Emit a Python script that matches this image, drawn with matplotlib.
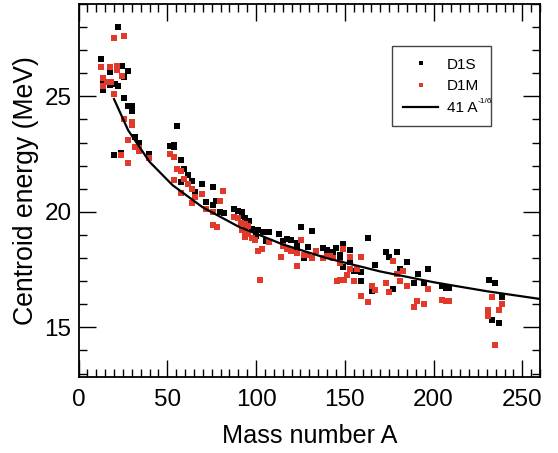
import numpy as np
import matplotlib
matplotlib.use("Agg")
import matplotlib.pyplot as plt
from matplotlib.lines import Line2D
from matplotlib.ticker import MultipleLocator

plt.rcParams['font.family'] = ['Liberation Sans', 'DejaVu Sans']

# ---- data ----
d1s_A = [22.0, 12.4, 24.3, 28.1, 25.8, 14.0, 17.9, 20.6, 22.1, 14.0, 17.9, 25.8, 28.1, 30.0, 30.0,
         32.1, 33.9, 20.2, 24.2, 39.8, 55.7, 51.7, 53.9, 53.9, 57.9, 59.7, 61.8, 63.8, 58.0, 65.8,
         69.7, 75.9, 71.7, 77.5, 75.9, 79.8, 81.7, 87.8, 89.9, 91.9, 91.9, 93.8, 95.8, 97.6, 101.3,
         103.7, 107.5, 113.2, 100.0, 105.4, 115.4, 117.6, 119.5, 125.5, 131.7, 123.3, 123.3, 129.5,
         127.3, 137.5, 139.8, 141.7, 143.5, 145.2, 149.2, 153.0, 147.3, 147.3, 153.0, 149.2, 155.2,
         157.1, 159.2, 159.3, 163.3, 167.2, 165.5, 173.2, 175.1, 179.2, 185.2, 181.2, 191.0, 197.1,
         189.2, 194.8, 177.4, 205.0, 207.0, 208.9, 231.0, 234.9, 238.8, 230.9, 233.1, 237.1]
d1s_E = [27.99, 26.60, 26.33, 26.12, 25.85, 25.62, 25.48, 25.55, 25.46, 25.28, 26.04, 24.94, 24.60,
         24.60, 24.38, 23.22, 23.00, 22.48, 22.54, 22.51, 23.70, 22.86, 22.91, 22.80, 22.25, 21.86,
         21.61, 21.35, 21.29, 20.84, 21.20, 21.08, 20.43, 20.47, 20.29, 19.98, 19.93, 20.12, 20.03,
         19.99, 19.83, 19.73, 19.59, 19.25, 19.20, 19.11, 19.12, 19.03, 18.96, 18.76, 18.74, 18.81,
         18.77, 19.35, 19.15, 18.65, 18.48, 18.46, 17.99, 18.42, 18.33, 18.27, 18.27, 18.42, 18.60,
         18.33, 18.12, 17.99, 17.81, 17.61, 17.46, 17.46, 17.40, 17.00, 18.86, 17.68, 16.57, 18.25,
         18.03, 18.25, 17.81, 17.51, 17.29, 17.51, 16.90, 16.94, 16.68, 16.77, 16.70, 16.70, 17.07,
         16.90, 16.30, 15.62, 15.33, 15.20]

d1m_A = [20.2, 25.8, 12.4, 17.9, 21.9, 21.9, 24.3, 14.0, 16.2, 18.1, 14.0, 20.2, 25.8, 29.9, 29.9,
         28.1, 32.1, 33.9, 33.9, 24.2, 28.1, 39.8, 51.7, 54.0, 55.7, 57.9, 54.0, 59.7, 61.8, 63.8,
         65.8, 58.0, 63.8, 69.7, 81.6, 79.8, 71.7, 75.9, 75.9, 77.9, 87.8, 89.7, 91.8, 93.8, 95.7,
         91.9, 93.8, 95.7, 93.8, 97.7, 99.6, 103.6, 101.3, 102.3, 107.5, 115.4, 117.6, 119.5, 113.9,
         123.3, 123.3, 125.5, 127.3, 129.5, 131.7, 133.6, 137.5, 139.8, 141.7, 143.5, 149.2, 147.3,
         153.0, 153.0, 157.1, 159.2, 145.4, 147.3, 149.4, 151.4, 155.4, 159.3, 163.3, 165.6, 167.3,
         177.4, 179.3, 183.0, 173.4, 181.3, 185.2, 197.1, 175.1, 205.0, 207.0, 208.9, 190.9, 194.8,
         189.2, 233.1, 238.8, 230.9, 230.9, 237.1, 234.9]
d1m_E = [27.51, 27.60, 26.29, 26.29, 26.33, 26.16, 25.90, 25.81, 25.64, 25.64, 25.46, 25.12, 24.00,
         23.88, 23.74, 23.12, 22.83, 22.77, 22.63, 22.48, 22.12, 22.33, 22.51, 22.39, 21.86, 21.77,
         21.38, 21.42, 21.22, 20.99, 20.65, 20.81, 20.38, 20.77, 20.90, 20.47, 20.12, 20.00, 19.42,
         19.36, 19.76, 19.73, 19.53, 19.48, 19.37, 19.21, 19.12, 19.02, 18.93, 18.88, 18.78, 18.39,
         18.30, 17.07, 18.71, 18.54, 18.40, 18.32, 18.04, 18.23, 17.64, 18.77, 18.12, 18.12, 17.99,
         18.30, 17.99, 18.10, 18.10, 17.99, 18.38, 17.77, 18.04, 17.51, 17.51, 18.04, 17.00, 17.03,
         17.07, 17.26, 17.00, 16.35, 16.09, 16.77, 16.60, 17.86, 17.30, 17.42, 16.90, 16.99, 16.77,
         16.68, 16.51, 16.20, 16.12, 16.12, 16.12, 16.03, 15.90, 16.30, 15.99, 15.77, 15.47, 15.73,
         14.25]

curve_A = np.array([20, 28, 40, 53, 70, 90, 115, 140, 170, 200, 230, 260], dtype=float)
curve_coef = 41.0
curve_E = curve_coef * curve_A ** (-1.0 / 6.0)

xticks = [0, 50, 100, 150, 200, 250]
yticks = [15, 20, 25]

# ---- figure ----
W, H = 558, 453
fig = plt.figure(figsize=(W / 100, H / 100), dpi=100)
ax = fig.add_axes([78.5 / W, 1 - 377 / H, (540 - 78.5) / W, (377 - 4) / H])

red = '#e23a2a'
ms = 3.7
ax.plot(d1s_A, d1s_E, 's', color='black', ms=ms, mew=0, zorder=3)
ax.plot(d1m_A, d1m_E, 's', color=red, ms=ms, mew=0, zorder=3)
ax.plot(curve_A, curve_E, '-', color='black', lw=1.6, zorder=4)

ax.set_xlim(0, 260)
ax.set_ylim(12.85, 29.0)
ax.set_xticks(xticks)
ax.set_yticks(yticks)
ax.xaxis.set_minor_locator(MultipleLocator(5))
ax.yaxis.set_minor_locator(MultipleLocator(1))
ax.tick_params(which='both', direction='in', top=True, right=True, width=1.0, labelsize=17.5)
ax.tick_params(which='major', length=12, pad=9)
ax.tick_params(which='minor', length=6)
ax.tick_params(axis='y', which='major', pad=5)
for s in ax.spines.values():
    s.set_linewidth(1.3)

ax.set_xlabel('Mass number A', fontsize=18.2, labelpad=9)
ax.set_ylabel('Centroid energy (MeV)', fontsize=19.2, labelpad=4)

handles = [
    Line2D([], [], ls='none', marker='s', color='black', ms=3.2, mew=0),
    Line2D([], [], ls='none', marker='s', color=red, ms=3.2, mew=0),
    Line2D([], [], ls='-', color='black', lw=1.6),
]
labels = ['D1S', 'D1M', '41 A  ']
leg = ax.legend(handles, labels, loc='upper left', bbox_to_anchor=(0.679, 0.887),
                borderaxespad=0, fontsize=11, handlelength=2.3, handletextpad=0.55,
                labelspacing=0.5, borderpad=0.75, fancybox=False, framealpha=1)
leg.get_frame().set_edgecolor('#444444')
leg.get_frame().set_linewidth(1.0)

# small superscript "-1/6" after "41 A"
fig.canvas.draw()
t = leg.get_texts()[2]
t.set_text('41 A')
fig.canvas.draw()
bb = t.get_window_extent()
fig.text((bb.x1 + 0.5) / W, (bb.y1 - 1) / H, '-1/6', fontsize=6, ha='left', va='center', zorder=10)

fig.savefig('out.png', dpi=100)
